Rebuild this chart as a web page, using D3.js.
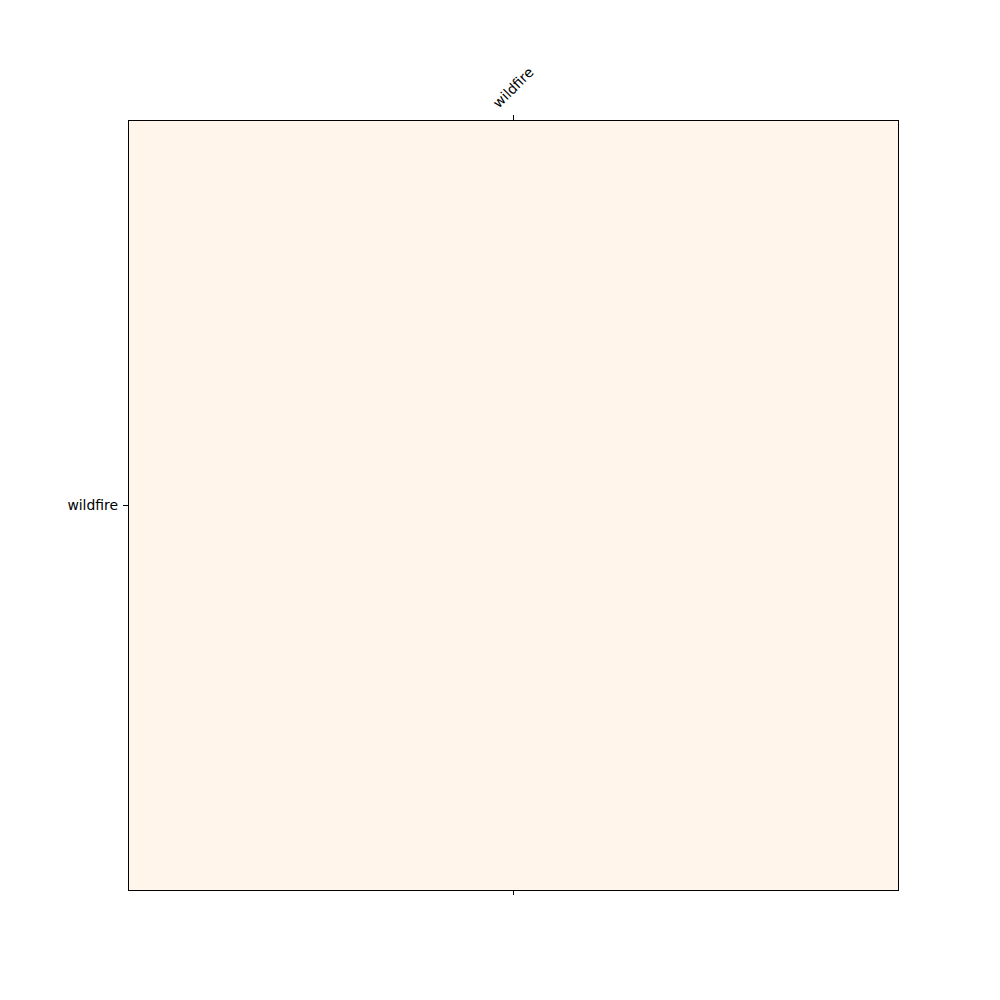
<!DOCTYPE html>
<html lang="en">
<head>
  <meta charset="UTF-8" />
  <title>Heatmap</title>
  <script src="https://d3js.org/d3.v7.min.js"></script>
  <style>
    body { margin: 0; background: #fff; }
    svg { display: block; font-family: "DejaVu Sans", sans-serif; }
    line, .frame { shape-rendering: crispEdges; }
  </style>
</head>
<body>
  <svg id="chart" width="1000" height="1000"></svg>
  <script>
    const rowLabels = ["wildfire"];
    const colLabels = ["wildfire"];
    const values = [[0]];

    const svg = d3.select("#chart");
    const margin = { left: 128, top: 120, right: 102, bottom: 110 };
    const w = 1000 - margin.left - margin.right;
    const h = 1000 - margin.top - margin.bottom;

    const x = d3.scaleBand().domain(colLabels).range([0, w]);
    const y = d3.scaleBand().domain(rowLabels).range([0, h]);
    const color = d3.scaleSequential(d3.interpolateOranges).domain([0, 1]);

    const g = svg.append("g").attr("transform", `translate(${margin.left},${margin.top})`);

    const cells = [];
    values.forEach((row, i) => row.forEach((v, j) => cells.push({ r: rowLabels[i], c: colLabels[j], v })));

    g.selectAll("rect.cell").data(cells).enter().append("rect")
      .attr("class", "cell")
      .attr("x", d => x(d.c))
      .attr("y", d => y(d.r))
      .attr("width", x.bandwidth())
      .attr("height", y.bandwidth())
      .attr("fill", d => color(d.v));

    g.append("rect")
      .attr("class", "frame")
      .attr("width", w).attr("height", h)
      .attr("fill", "none").attr("stroke", "#000").attr("stroke-width", 1);

    const tickLen = 5;

    // top axis, rotated labels
    const topTicks = g.append("g").selectAll("g").data(colLabels).enter().append("g")
      .attr("transform", d => `translate(${x(d) + x.bandwidth() / 2},0)`);
    topTicks.append("line").attr("y1", 0).attr("y2", -tickLen).attr("stroke", "#000");
    topTicks.append("text")
      .attr("text-anchor", "middle")
      .attr("dominant-baseline", "central")
      .attr("font-size", 13.9)
      .attr("fill", "#000")
      .text(d => d)
      .each(function () {
        const b = this.getBBox();
        const bh = (b.width + b.height) * Math.SQRT1_2;
        d3.select(this).attr("transform", `translate(0,${-tickLen - 4 - bh / 2}) rotate(-45)`);
      });

    // bottom ticks, no labels
    g.append("g").selectAll("line").data(colLabels).enter().append("line")
      .attr("x1", d => x(d) + x.bandwidth() / 2)
      .attr("x2", d => x(d) + x.bandwidth() / 2)
      .attr("y1", h).attr("y2", h + tickLen)
      .attr("stroke", "#000");

    // left axis
    const leftTicks = g.append("g").selectAll("g").data(rowLabels).enter().append("g")
      .attr("transform", d => `translate(0,${y(d) + y.bandwidth() / 2})`);
    leftTicks.append("line").attr("x1", 0).attr("x2", -tickLen).attr("stroke", "#000");
    leftTicks.append("text")
      .attr("x", -tickLen - 5)
      .attr("text-anchor", "end")
      .attr("dominant-baseline", "central")
      .attr("font-size", 13.9)
      .attr("fill", "#000")
      .text(d => d);
  </script>
</body>
</html>
